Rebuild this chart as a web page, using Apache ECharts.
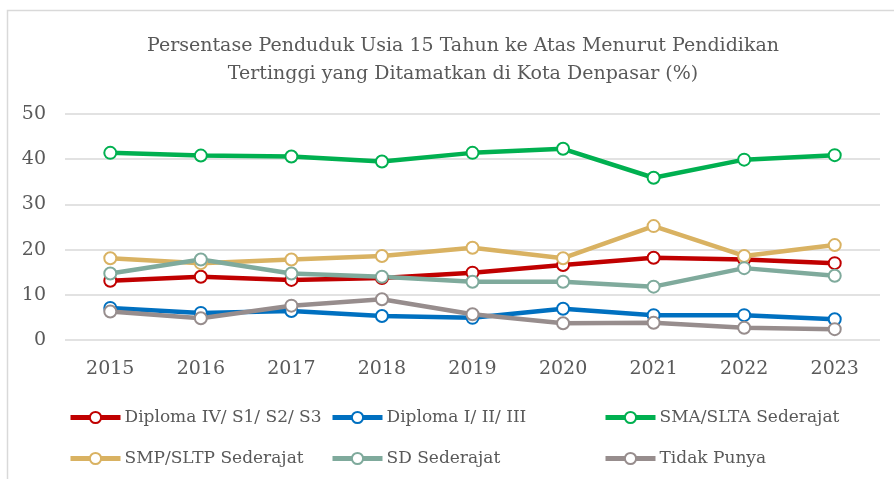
<!DOCTYPE html>
<html>
<head>
<meta charset="utf-8">
<script src="https://cdn.jsdelivr.net/npm/echarts@6/dist/echarts.min.js"></script>
<style>
  html, body { margin: 0; padding: 0; background: #fff; }
  #chart { width: 894px; height: 479px; }
</style>
</head>
<body>
<div id="chart"></div>
<script>
// data
var years = ['2015', '2016', '2017', '2018', '2019', '2020', '2021', '2022', '2023'];
var diplomaIV = [13.1, 14.0, 13.3, 13.7, 14.9, 16.6, 18.2, 17.8, 17.0];
var diplomaI = [7.1, 6.0, 6.4, 5.3, 4.9, 6.9, 5.5, 5.5, 4.6];
var sma = [41.4, 40.8, 40.6, 39.5, 41.4, 42.3, 35.9, 39.9, 40.9];
var smp = [18.1, 17.0, 17.8, 18.6, 20.4, 18.1, 25.2, 18.6, 21.0];
var sd = [14.7, 17.8, 14.7, 14.0, 12.9, 12.9, 11.8, 15.9, 14.2];
var tidak = [6.3, 4.8, 7.6, 9.0, 5.7, 3.7, 3.8, 2.7, 2.4];

var names = ['Diploma IV/ S1/ S2/ S3', 'Diploma I/ II/ III', 'SMA/SLTA Sederajat',
             'SMP/SLTP Sederajat', 'SD Sederajat', 'Tidak Punya'];
var colors = ['#C00000', '#0070C0', '#00B050', '#D9B262', '#7FAA9C', '#978D8D'];
var values = [diplomaIV, diplomaI, sma, smp, sd, tidak];

var font = 'DejaVu Serif';
var textColor = '#595959';

var myChart = echarts.init(document.getElementById('chart'));

// garis per kategori
var series = names.map(function (n, i) {
  return {
    name: n,
    type: 'line',
    data: values[i],
    symbol: 'circle',
    symbolSize: 12,
    lineStyle: { width: 4.5, color: colors[i] },
    itemStyle: { color: '#fff', borderColor: colors[i], borderWidth: 2 },
    emphasis: { disabled: true }
  };
});

// legenda: tiga kolom
function legendCol(items, left) {
  return {
    data: items,
    orient: 'vertical',
    left: left,
    top: 409,
    padding: 0,
    itemGap: 24,
    itemWidth: 50,
    itemHeight: 14,
    lineStyle: { width: 5 },
    textStyle: { fontFamily: font, fontSize: 17, color: textColor, padding: [0, 0, 0, -1] }
  };
}

var option = {
  animation: false,
  title: {
    text: 'Persentase Penduduk Usia 15 Tahun ke Atas Menurut Pendidikan\nTertinggi yang Ditamatkan di Kota Denpasar (%)',
    left: 458,
    top: 27,
    textAlign: 'center',
    textStyle: { fontFamily: font, fontSize: 19, fontWeight: 'normal', color: textColor, lineHeight: 28 }
  },
  graphic: [{
    type: 'rect',
    shape: { x: 7.5, y: 10.5, width: 1000, height: 600 },
    style: { fill: 'none', stroke: '#D9D9D9', lineWidth: 1.5 },
    silent: true
  }],
  legend: [
    legendCol([names[0], names[3]], 68),
    legendCol([names[1], names[4]], 330),
    legendCol([names[2], names[5]], 603)
  ],
  grid: { left: 65, right: 14, top: 114, bottom: 139 },
  xAxis: {
    type: 'category',
    data: years,
    axisLine: { show: false },
    axisTick: { show: false },
    axisLabel: { fontFamily: font, fontSize: 19, color: textColor, margin: 20 }
  },
  yAxis: {
    type: 'value',
    min: 0,
    max: 50,
    interval: 10,
    axisLabel: { fontFamily: font, fontSize: 19, color: textColor, margin: 19 },
    splitLine: { lineStyle: { color: '#D9D9D9', width: 1.5 } }
  },
  series: series
};

myChart.setOption(option);
</script>
</body>
</html>
